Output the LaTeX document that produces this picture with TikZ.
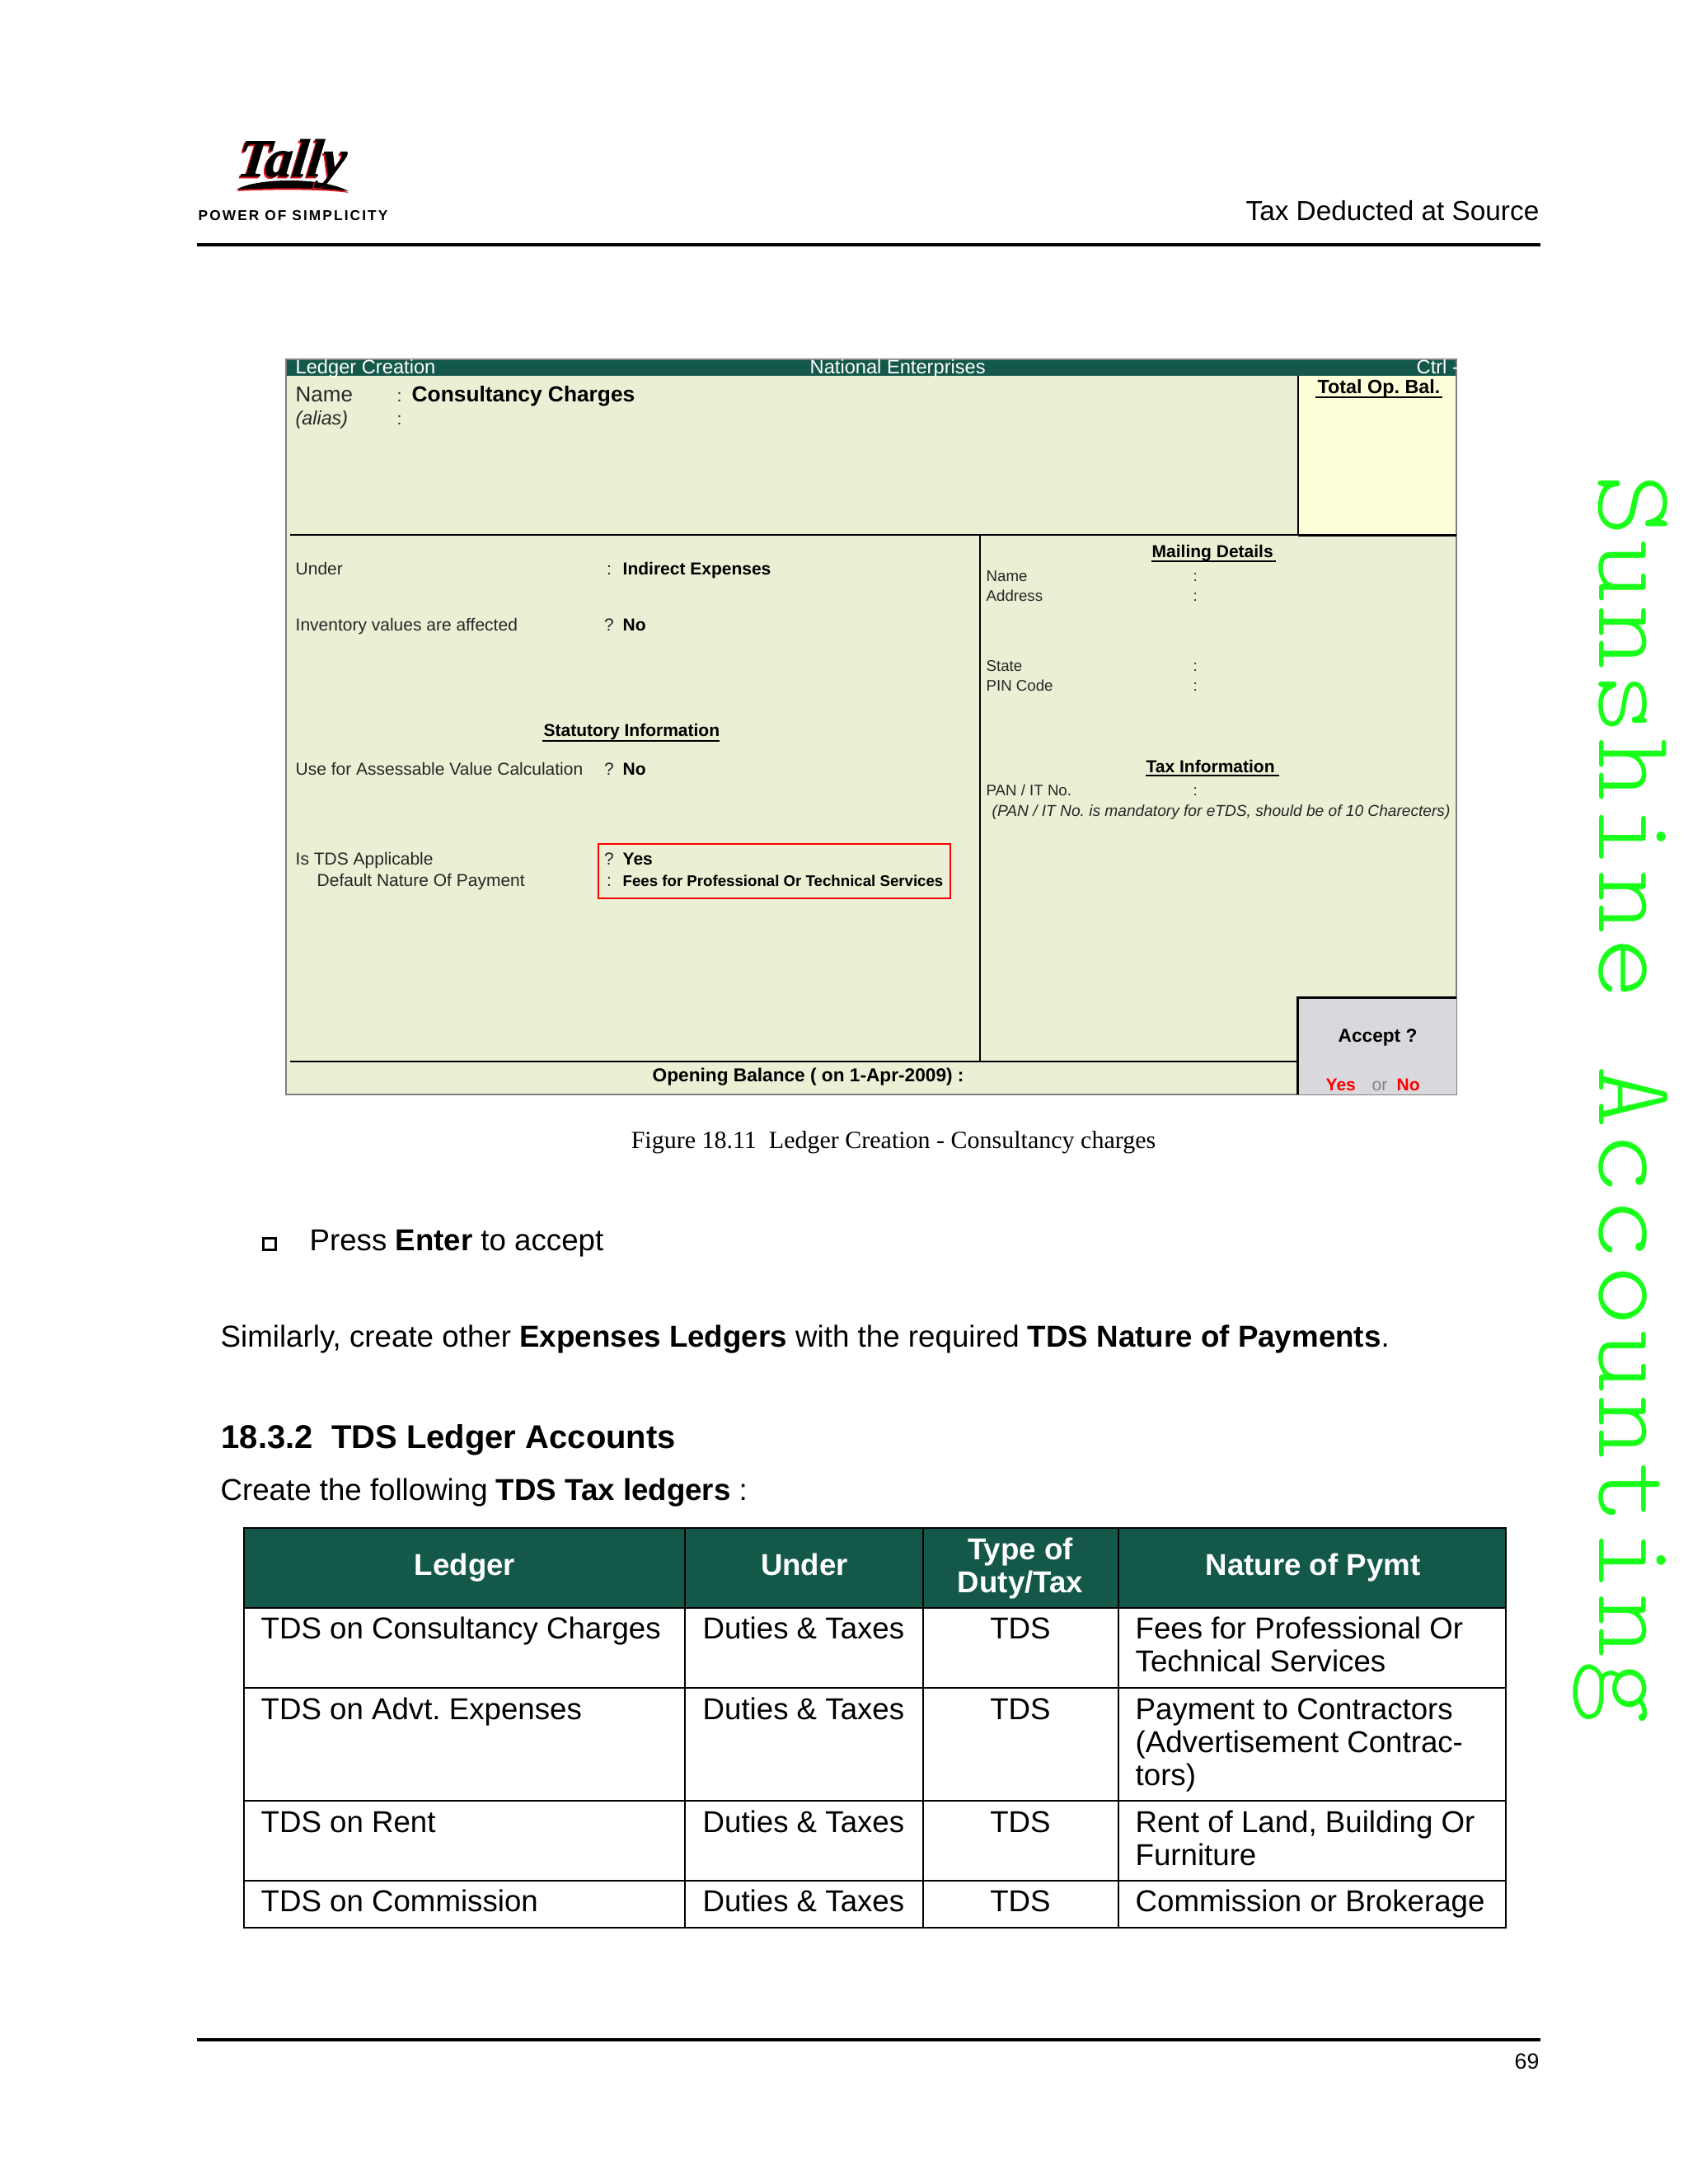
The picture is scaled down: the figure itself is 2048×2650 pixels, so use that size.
\documentclass[tikz,border=0pt]{standalone}
\usepackage{fontspec}
\setmainfont{Liberation Sans}
\newfontfamily\capfont{Liberation Serif}
\newfontfamily\logofont[FakeBold=1.2,FakeSlant=0.12]{Liberation Serif}
\newfontfamily\scrfont{Liberation Sans}
\newfontfamily\sidefont[LetterSpace=3.5,FakeStretch=1.08]{Latin Modern Mono Light}
\newfontfamily\powerfont[LetterSpace=12]{Liberation Sans}
\definecolor{tallygreen}{HTML}{14584A}
\definecolor{screenbg}{HTML}{EBEFD4}
\definecolor{balbg}{HTML}{FEFFD8}
\definecolor{acceptbg}{HTML}{D9D8DC}
\definecolor{sidegreen}{HTML}{19FF19}
\definecolor{logored}{HTML}{D8141C}
\frenchspacing
\tikzset{
	txt/.style={anchor=base west, inner sep=0pt, font=\fontsize{11}{13}\selectfont},
	tabtxt/.style={txt, font=\fontsize{11}{13}\selectfont},
	tabhead/.style={anchor=base, inner sep=0pt, text=white, font=\bfseries\fontsize{11}{13}\selectfont},
	scr/.style={anchor=base west, inner sep=0pt, text=black!85, font=\scrfont\fontsize{6.3}{8}\selectfont},
	scrb/.style={scr, text=black, font=\scrfont\bfseries\fontsize{6.3}{8}\selectfont},
	scrbig/.style={scrb, font=\scrfont\bfseries\fontsize{7.9}{9}\selectfont},
	scrbar/.style={scr, text=white, font=\scrfont\fontsize{7.1}{8}\selectfont},
	scrsmall/.style={scr, font=\scrfont\fontsize{5.6}{7}\selectfont},
	tabline/.style={black, line width=0.8pt}
}
\begin{document}
\begin{tikzpicture}[x=0.3pt, y=-0.3pt]
	\useasboundingbox (0, 0) rectangle (2048, 2650);
	
	%page header and footer
	\fill [logored] (287, 232) .. controls (310, 218) and (390, 216) .. (423, 234) .. controls (390, 229) and (320, 230) .. (287, 232);
	\fill [black] (287, 230) .. controls (310, 216) and (390, 214) .. (423, 232) .. controls (390, 227) and (320, 228) .. (287, 230);
	\node [inner sep=0pt, anchor=base west, text=logored, font=\logofont\bfseries\itshape\fontsize{19.5}{20}\selectfont] (logoshadow) at (284, 216) {Tally};
	\node [inner sep=0pt, anchor=base west, font=\logofont\bfseries\itshape\fontsize{19.5}{20}\selectfont] (logo) at (286, 214) {Tally};
	\node [inner sep=0pt, anchor=base west, font=\powerfont\bfseries\fontsize{5.2}{6}\selectfont] (power) at (240, 267) {POWER OF SIMPLICITY};
	\node [inner sep=0pt, anchor=base east, font=\fontsize{10}{12}\selectfont] (chapter) at (1868, 267) {Tax Deducted at Source};
	\draw [line width=1pt] (239, 297) -- (1869, 297);
	\draw [line width=1pt] (239, 2475) -- (1869, 2475);
	\node [inner sep=0pt, anchor=base east, font=\fontsize{8}{10}\selectfont] (pageno) at (1868, 2510) {69};
	
	%the green side text
	\node [inner sep=0pt, anchor=base west, rotate=-90, text=sidegreen, font=\sidefont\fontsize{40}{44}\selectfont] (side) at (1940, 575) {Sunshine Accounting};
	
	%screen background and boxes
	\fill [screenbg] (347, 436) rectangle (1767, 1328);
	\fill [tallygreen] (347, 436) rectangle (1767, 456);
	\fill [balbg] (1575, 456) rectangle (1767, 649);
	\draw [gray, line width=0.5pt] (347, 436) rectangle (1767, 1328);
	\draw [line width=0.6pt] (1575, 456) -- (1575, 649);
	\draw [line width=0.4pt] (352, 649) -- (1575, 649); %line under the name part
	\draw [line width=0.9pt] (1575, 649) -- (1767, 649); %heavier below the balance box
	\draw [line width=0.4pt] (1189, 649) -- (1189, 1288); %splits left and right
	\draw [line width=0.6pt] (352, 1288) -- (1574, 1288);
	\fill [acceptbg] (1574, 1210) rectangle (1767, 1328);
	\draw [line width=0.9pt] (1574, 1328) -- (1574, 1210) -- (1767, 1210);
	\draw [red, line width=0.4pt] (726, 1024) rectangle (1153, 1090); %the marked box
	
	%title bar
	\node [scrbar] (bartitle) at (358, 453) {Ledger Creation};
	\node [scrbar] (barcompany) at (982, 453) {National Enterprises};
	\node [scrbar] (barctrl) at (1718, 453) {Ctrl -};
	
	%top part
	\node [scr, font=\scrfont\fontsize{7.8}{9}\selectfont] (name) at (358, 487) {Name};
	\node [scr] (namec) at (481, 487) {:};
	\node [scrbig] (nameval) at (499, 487) {Consultancy Charges};
	\node [scr, font=\scrfont\itshape\fontsize{7}{9}\selectfont] (alias) at (358, 515) {(alias)};
	\node [scr] (aliasc) at (481, 515) {:};
	\node [scrb, font=\scrfont\bfseries\fontsize{7}{8}\selectfont] (totalbal) at (1598, 477) {Total Op. Bal.};
	\draw [line width=0.4pt] (1596, 482) -- (1750, 482);
	
	%left part, rows go label, sign, value
	\foreach \id/\ypos/\lab/\sgn/\val in {under/697/Under/:/Indirect Expenses, inv/765/Inventory values are affected/?/No, assess/940/Use for Assessable Value Calculation/?/No, tds/1049/Is TDS Applicable/?/Yes}{
		\node [scr] (\id lab) at (358, \ypos) {\lab};
		\node [scr, anchor=base] (\id sgn) at (739, \ypos) {\sgn};
		\node [scrb] (\id val) at (755, \ypos) {\val};
	}
	\node [scr] (natlab) at (384, 1075) {Default Nature Of Payment};
	\node [scr, anchor=base] (natsgn) at (739, 1075) {:};
	\node [scrb, font=\scrfont\bfseries\fontsize{5.6}{7}\selectfont] (natval) at (755, 1075) {Fees for Professional Or Technical Services};
	\node [scrb] (stat) at (659, 893) {Statutory Information};
	\draw [line width=0.4pt] (658, 899) -- (873, 899);
	\node [scrb, font=\scrfont\bfseries\fontsize{6.8}{8}\selectfont] (openbal) at (791, 1312) {Opening Balance ( on 1-Apr-2009) :};
	
	%right part
	\node [scrb] (mail) at (1397, 676) {Mailing Details};
	\draw [line width=0.4pt] (1397, 681) -- (1548, 681);
	\foreach \id/\ypos/\lab in {rname/705/Name, raddr/729/Address, rstate/814/State, rpin/838/PIN Code, rpan/965/{PAN / IT No.}}{
		\node [scrsmall] (\id) at (1196, \ypos) {\lab};
		\node [scrsmall] (\id c) at (1447, \ypos) {:};
	}
	\node [scrb] (taxinfo) at (1390, 937) {Tax Information};
	\draw [line width=0.4pt] (1390, 941) -- (1552, 941);
	\node [scr, font=\scrfont\itshape\fontsize{5.74}{7}\selectfont] (pannote) at (1203, 990) {(PAN / IT No. is mandatory for eTDS, should be of 10 Charecters)};
	
	%accept box
	\node [scrb, font=\scrfont\bfseries\fontsize{6.8}{8}\selectfont] (accept) at (1623, 1264) {Accept ?};
	\node [scrb, text=red] (acyes) at (1608, 1323) {Yes};
	\node [scr, text=gray] (acor) at (1664, 1323) {or};
	\node [scrb, text=red] (acno) at (1694, 1323) {No};
	
	%text of the page
	\node [inner sep=0pt, anchor=base, font=\capfont\fontsize{9}{11}\selectfont] (caption) at (1084, 1393) {Figure 18.11\ \ Ledger Creation - Consultancy charges};
	\draw [line width=0.9pt] (319, 1502) rectangle (334, 1516); %bullet
	\node [txt] (press) at (375, 1517) {Press \textbf{Enter} to accept};
	\node [txt, font=\fontsize{11.02}{13}\selectfont] (similar) at (267, 1634) {Similarly, create other \textbf{Expenses Ledgers} with the required \textbf{TDS Nature of Payments}.};
	\node [txt, font=\bfseries\fontsize{12}{14}\selectfont] (section) at (268, 1757) {18.3.2\ \ TDS Ledger Accounts};
	\node [txt] (create) at (267, 1820) {Create the following \textbf{TDS Tax ledgers} :};
	
	%table, header first and lines on top of it
	\fill [tallygreen] (296, 1854) rectangle (1827, 1951);
	\draw [tabline] (296, 1854) rectangle (1827, 2339);
	\foreach \ypos in {1951, 2048, 2185, 2282}
		\draw [tabline] (296, \ypos) -- (1827, \ypos);
	\foreach \xpos in {831, 1120, 1357}
		\draw [tabline] (\xpos, 1854) -- (\xpos, 2339);
	\node [tabhead] (hledger) at (564, 1911) {Ledger};
	\node [tabhead] (hunder) at (976, 1911) {Under};
	\node [tabhead] (htype) at (1238, 1892) {Type of};
	\node [tabhead] (hduty) at (1238, 1932) {Duty/Tax};
	\node [tabhead] (hnature) at (1593, 1911) {Nature of Pymt};
	
	\foreach \id/\ypos/\lab in {a/1988/TDS on Consultancy Charges, b/2086/TDS on Advt. Expenses, c/2223/TDS on Rent, d/2319/TDS on Commission}{
		\node [tabtxt] (led\id) at (316, \ypos) {\lab};
		\node [tabtxt] (und\id) at (852, \ypos) {Duties \& Taxes};
		\node [tabtxt, anchor=base] (typ\id) at (1238, \ypos) {TDS};
	}
	\foreach \id/\ypos/\lab in {a/1988/Fees for Professional Or, e/2028/Technical Services, b/2086/Payment to Contractors, f/2126/(Advertisement Contrac-, g/2166/tors), c/2223/{Rent of Land, Building Or}, h/2263/Furniture, d/2319/Commission or Brokerage}
		\node [tabtxt] (nat\id) at (1377, \ypos) {\lab};
\end{tikzpicture}
\end{document}
